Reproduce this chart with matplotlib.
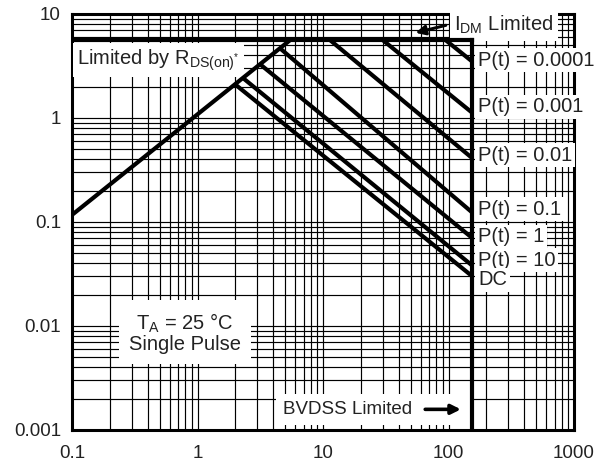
import numpy as np
import matplotlib
matplotlib.use("Agg")
import matplotlib.pyplot as plt

plt.rcParams['font.family'] = ['Liberation Sans', 'DejaVu Sans']
plt.rcParams['mathtext.fontset'] = 'custom'
plt.rcParams['mathtext.rm'] = 'Liberation Sans'
plt.rcParams['mathtext.it'] = 'Liberation Sans:italic'

# ---- data ----
x_ticks = [0.1, 1, 10, 100, 1000]
x_tick_labels = ["0.1", "1", "10", "100", "1000"]
y_ticks = [0.001, 0.01, 0.1, 1, 10]
y_tick_labels = ["0.001", "0.01", "0.1", "1", "10"]

rds_v = [0.1, 5.46]          # R_DS(on) limit line
rds_i = [0.117, 5.6]
idm_i = 5.6                  # I_DM limit
bvdss_v = 155                # BVDSS limit

pulse_labels = ["P(t) = 0.0001", "P(t) = 0.001", "P(t) = 0.01",
                "P(t) = 0.1", "P(t) = 1", "P(t) = 10", "DC"]
pulse_start_v = [95, 30, 11.4, 4.54, 3.15, 2.30, 1.99]
pulse_end_i = [3.48, 1.12, 0.41, 0.123, 0.070, 0.038, 0.030]
label_y = [3.61, 1.28, 0.44, 0.133, 0.0718, 0.0431, 0.0277]


def on_envelope(v):
    # current on the RDS / IDM envelope at voltage v (log-log interpolation)
    if v >= rds_v[1]:
        return idm_i
    return 10 ** np.interp(np.log10(v), np.log10(rds_v), np.log10(rds_i))


fig = plt.figure(figsize=(6.16, 4.67), dpi=100)
ax = fig.add_axes([72 / 616, 37 / 467, 502 / 616, 416 / 467])
ax.set_xscale('log')
ax.set_yscale('log')
ax.set_xlim(0.1, 1000)
ax.set_ylim(0.001, 10)

ax.set_axisbelow(True)
ax.grid(which='both', color='black', linewidth=0.85)
ax.set_xticks(x_ticks)
ax.set_xticklabels(x_tick_labels)
ax.set_yticks(y_ticks)
ax.set_yticklabels(y_tick_labels)
ax.tick_params(which='both', length=0, labelsize=13.5, colors='#222222')
ax.tick_params(axis='x', pad=10.5)
ax.tick_params(axis='y', pad=8)
for s in ax.spines.values():
    s.set_linewidth(2.2)
    s.set_color('black')

lw = 3.0
ax.plot(rds_v, rds_i, color='black', lw=lw, zorder=5, solid_capstyle='butt')
ax.plot([0.1, bvdss_v], [idm_i, idm_i], color='black', lw=lw, zorder=5)
ax.plot([bvdss_v, bvdss_v], [0.001, idm_i], color='black', lw=lw, zorder=5)
for sv, ei in zip(pulse_start_v, pulse_end_i):
    ax.plot([sv, bvdss_v], [on_envelope(sv), ei], color='black', lw=lw,
            zorder=5, solid_capstyle='butt')

box = dict(facecolor='white', edgecolor='none', pad=2)
fs = 14.5
for lab, ly in zip(pulse_labels, label_y):
    ax.text(172, ly, lab, fontsize=fs, va='center', ha='left', color='#222222',
            bbox=box, zorder=4, clip_on=False)

ax.text(0.11, 3.6, r"Limited by $\mathregular{R_{DS(on)^{*}}}$", fontsize=fs,
        va='center', ha='left', color='#222222',
        bbox=dict(facecolor='white', edgecolor='none', pad=3), zorder=4)

ax.text(111, 7.8, r"$\mathregular{I_{DM}}$ Limited", fontsize=fs, va='center',
        ha='left', color='#222222', bbox=dict(facecolor='white', edgecolor='none', pad=3),
        zorder=4)
ax.annotate("", xy=(52, 6.5), xytext=(100, 7.9),
            arrowprops=dict(arrowstyle='-|>', color='black', lw=2.2,
                            mutation_scale=14), zorder=6)

ax.text(0.795, 0.0086, "$\\mathregular{T_A}$ = 25 °C\nSingle Pulse", fontsize=fs,
        va='center', ha='center', color='#222222', linespacing=1.05,
        bbox=dict(facecolor='white', edgecolor='none', pad=7), zorder=4)

ax.text(4.8, 0.00156, "BVDSS Limited          ", fontsize=13.5, va='center',
        ha='left', color='#222222',
        bbox=dict(facecolor='white', edgecolor='none', pad=5), zorder=4)
ax.annotate("", xy=(132, 0.00158), xytext=(62, 0.00158),
            arrowprops=dict(arrowstyle='-|>', color='black', lw=2.6,
                            mutation_scale=14), zorder=6)

fig.savefig("out.png", dpi=100, facecolor='white')
